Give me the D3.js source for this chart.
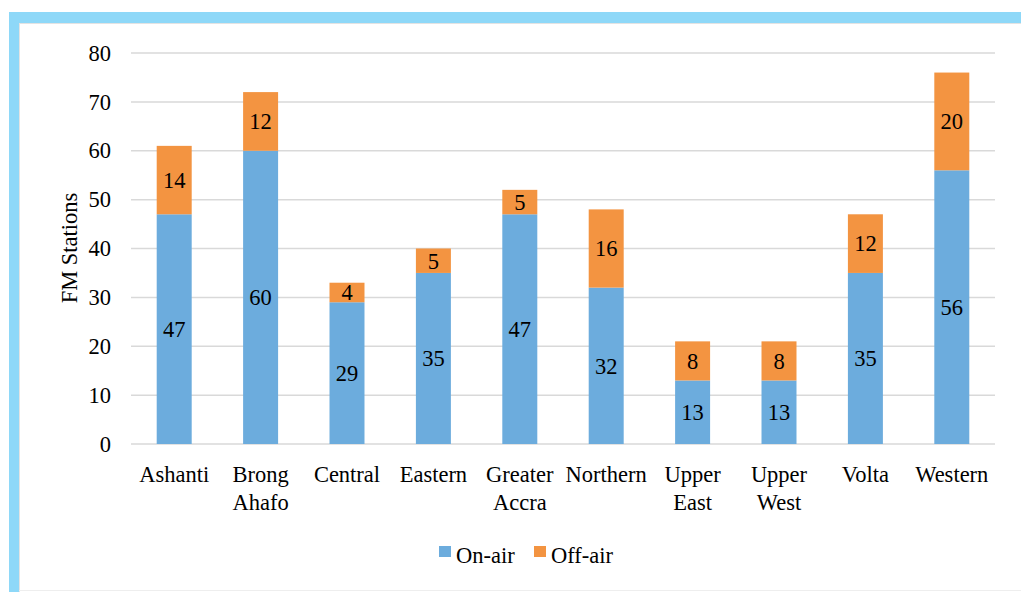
<!DOCTYPE html>
<html><head><meta charset="utf-8">
<script src="https://cdn.jsdelivr.net/npm/d3@7"></script>
<style>body{margin:0;background:#fff}svg{display:block}svg text{font-family:"Liberation Serif","Times New Roman",serif}</style>
</head><body>
<script>
const categories = [["Ashanti"],["Brong","Ahafo"],["Central"],["Eastern"],["Greater","Accra"],["Northern"],["Upper","East"],["Upper","West"],["Volta"],["Western"]];
const onAir = [47,60,29,35,47,32,13,13,35,56];
const offAir = [14,12,4,5,5,16,8,8,12,20];
const yTicks = [0,10,20,30,40,50,60,70,80];
const seriesNames = ["On-air","Off-air"];
const colors = ["#6CACDD","#F39441"];

(function(){
const W=1021,H=592;
const svg=d3.select("body").append("svg").attr("width",W).attr("height",H);
const font="Liberation Serif";
const fs="22.5px";

// frame
svg.append("rect").attr("x",9).attr("y",12).attr("width",W-9).attr("height",11).attr("fill","#8ED8F8");
svg.append("rect").attr("x",9).attr("y",12).attr("width",10).attr("height",H-12).attr("fill","#8ED8F8");
svg.append("line").attr("x1",19.5).attr("x2",19.5).attr("y1",23).attr("y2",H).attr("stroke","#e3e3e3");
svg.append("line").attr("x1",19).attr("x2",W).attr("y1",23.5).attr("y2",23.5).attr("stroke","#e3e3e3");
svg.append("line").attr("x1",19).attr("x2",W).attr("y1",590.5).attr("y2",590.5).attr("stroke","#eeeeee");

const pL=131,pR=995,pT=53,pB=444;
const keys=categories.map(c=>c.join(" "));
const x=d3.scaleBand().domain(keys).range([pL,pR]).paddingInner(0.595).paddingOuter(0.2975);
const y=d3.scaleLinear().domain([0,80]).range([pB,pT]);

// grid
svg.append("g").selectAll("line").data(yTicks).join("line")
 .attr("x1",pL).attr("x2",pR).attr("y1",d=>y(d)).attr("y2",d=>y(d))
 .attr("stroke","#d9d9d9").attr("stroke-width",1.5);

// y axis
const ya=svg.append("g").attr("transform",`translate(${pL},0)`)
 .call(d3.axisLeft(y).tickValues(yTicks).tickSize(0).tickPadding(20));
ya.select(".domain").remove();
ya.attr("font-family",font);
ya.selectAll("text").style("font-size",fs).attr("fill","#000");

const data=keys.map((k,i)=>({key:k,onAir:onAir[i],offAir:offAir[i]}));
const stack=d3.stack().keys(["onAir","offAir"])(data);
const g=svg.append("g");
stack.forEach((s,si)=>{
  g.append("g").selectAll("rect").data(s).join("rect")
   .attr("x",d=>x(d.data.key)).attr("width",x.bandwidth())
   .attr("y",d=>y(d[1])).attr("height",d=>y(d[0])-y(d[1]))
   .attr("fill",colors[si]);
  g.append("g").selectAll("text").data(s).join("text")
   .attr("x",d=>x(d.data.key)+x.bandwidth()/2)
   .attr("y",d=>(y(d[0])+y(d[1]))/2)
   .attr("dy","0.35em").attr("text-anchor","middle")
   .style("font-size",fs).attr("fill","#000")
   .text(d=>d[1]-d[0]);
});

// x labels
const xl=svg.append("g");
categories.forEach((c,i)=>{
  const cx=x(keys[i])+x.bandwidth()/2;
  const t=xl.append("text").attr("x",cx).attr("y",482)
   .attr("text-anchor","middle").style("font-size",fs).attr("fill","#000");
  c.forEach((line,j)=>t.append("tspan").attr("x",cx).attr("dy",j?27.5:0).text(line));
});

// y title
svg.append("text").attr("transform","translate(77,248) rotate(-90)").attr("text-anchor","middle")
 .style("font-size",fs).attr("fill","#000").text("FM Stations");

// legend
const lg=svg.append("g");
const lx=[439,534];
seriesNames.forEach((n,i)=>{
  lg.append("rect").attr("x",lx[i]).attr("y",546).attr("width",12).attr("height",11).attr("fill",colors[i]);
  lg.append("text").attr("x",lx[i]+17).attr("y",563).style("font-size",fs).attr("fill","#000").text(n);
});
})();
</script>
</body></html>
